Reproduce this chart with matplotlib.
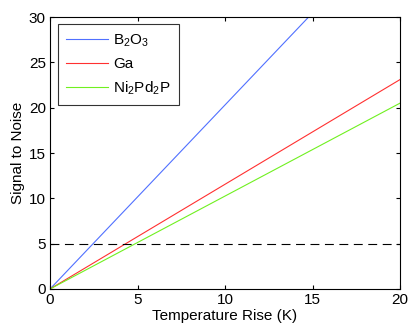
import matplotlib
matplotlib.use('Agg')
import matplotlib.pyplot as plt

# Signal to noise vs temperature rise (linear)
temp_rise = [0, 20]
b2o3 = [0, 40.6]
ga = [0, 23.1]
ni2pd2p = [0, 20.5]
threshold = 5

labels = ['B$_2$O$_3$', 'Ga', 'Ni$_2$Pd$_2$P']
colors = ['#5070ff', '#ff3030', '#70f020']

plt.rcParams['font.family'] = ['Liberation Sans', 'DejaVu Sans']
plt.rcParams['mathtext.fontset'] = 'custom'
plt.rcParams['mathtext.rm'] = 'Liberation Sans'
plt.rcParams['mathtext.it'] = 'Liberation Sans'

fig = plt.figure(figsize=(4.15, 3.31), dpi=100)
ax = fig.add_axes([0.1205, 0.1269, 0.8434, 0.8217])

for series, label, color in zip([b2o3, ga, ni2pd2p], labels, colors):
    ax.plot(temp_rise, series, color=color, linewidth=0.8, label=label)

ax.axhline(threshold, color='black', linestyle=(0, (8, 5)), linewidth=0.8)

ax.set_xlim(0, 20)
ax.set_ylim(0, 30)
ax.set_xticks([0, 5, 10, 15, 20])
ax.set_yticks([0, 5, 10, 15, 20, 25, 30])
ax.tick_params(direction='in', top=True, right=True, labelsize=11, length=3, width=0.8, pad=3)
for s in ax.spines.values():
    s.set_linewidth(0.8)

ax.set_xlabel('Temperature Rise (K)', fontsize=11, labelpad=1)
ax.set_ylabel('Signal to Noise', fontsize=11, labelpad=3)

leg = ax.legend(loc='upper left', fontsize=11, fancybox=False, edgecolor='black',
                handlelength=2.75, handletextpad=0.3, borderpad=0.55, labelspacing=0.55,
                borderaxespad=0, bbox_to_anchor=(0.023, 0.974))
leg.get_frame().set_linewidth(0.8)

plt.savefig('out.png', dpi=100)
